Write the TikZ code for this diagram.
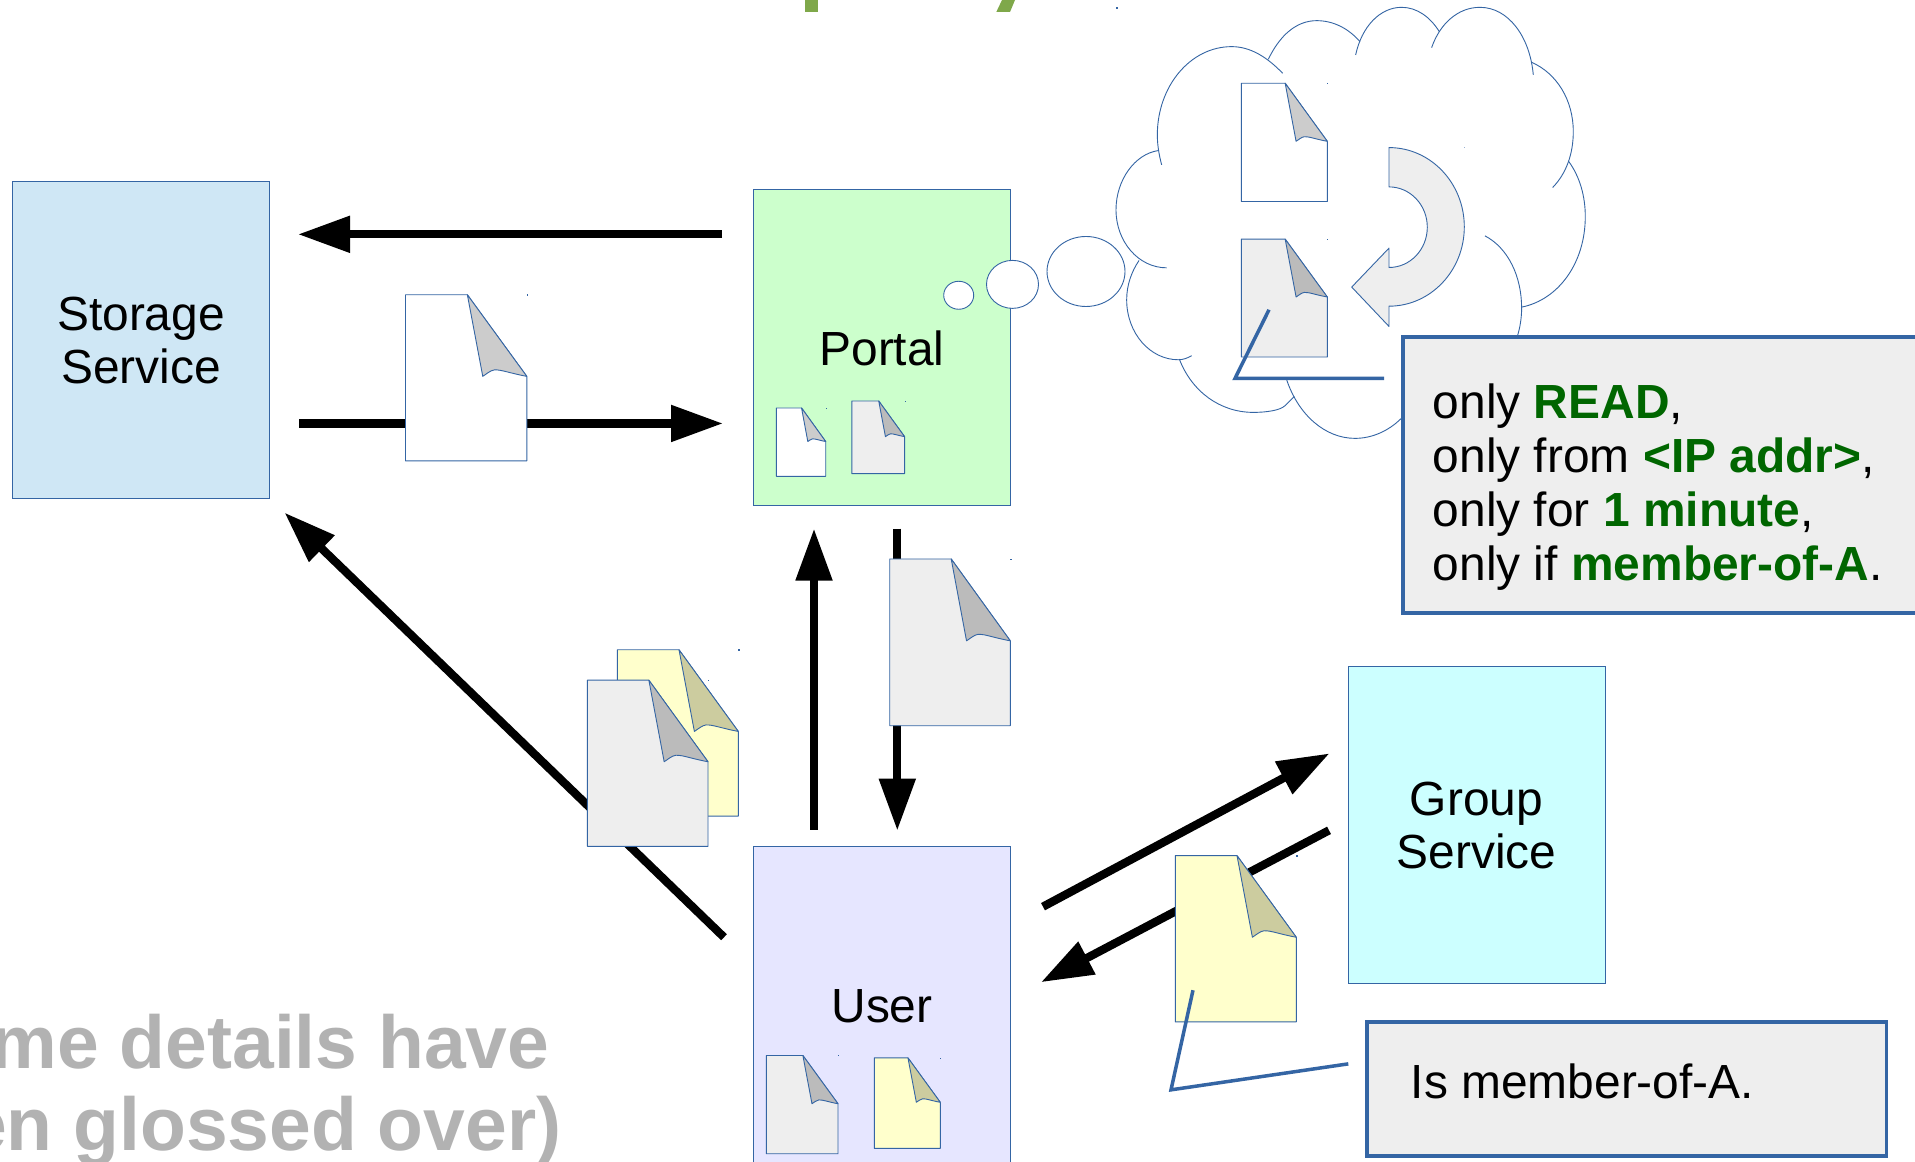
\documentclass[tikz,border=0pt]{standalone}
\usepackage{fontspec}
\setmainfont{Liberation Sans}
\usetikzlibrary{arrows.meta,shapes.geometric}
\definecolor{lineblue}{HTML}{3465A4}
\definecolor{storagefill}{HTML}{CFE7F5}
\definecolor{portalfill}{HTML}{CCFFCC}
\definecolor{userfill}{HTML}{E6E6FF}
\definecolor{groupfill}{HTML}{CCFFFF}
\definecolor{paleg}{HTML}{EEEEEE}
\definecolor{foldw}{HTML}{CCCCCC}
\definecolor{foldg}{HTML}{BBBBBB}
\definecolor{yellowp}{HTML}{FFFFCC}
\definecolor{foldy}{HTML}{CCCC9F}
\definecolor{dkgreen}{HTML}{006600}
\definecolor{glossgrey}{HTML}{B2B2B2}
\definecolor{titlegreen}{HTML}{7FA84A}
\tikzset{
  svcbox/.style={draw=lineblue,line width=0.9pt,rectangle,inner sep=0pt,outer sep=0pt,anchor=north west},
  calloutbox/.style={draw=lineblue,fill=paleg,line width=3.8pt,rectangle,inner sep=0pt,outer sep=0pt,anchor=north west},
  boxlabel/.style={font=\fontsize{47.9}{54}\selectfont,anchor=base,inner sep=0pt},
  bubble/.style={ellipse,draw=lineblue,fill=white,line width=0.9pt,inner sep=0pt,outer sep=0pt},
  bigarrow/.style={line width=8.3pt,-{Triangle[length=52pt,width=35pt]}},
  leader/.style={draw=lineblue,line width=3.5pt,line join=miter},
  cloudline/.style={draw=lineblue,line width=0.9pt},
  sheet/.style={draw=lineblue,line width=0.9pt,line join=round}
}
\newcommand{\docsheet}[6]{%
  \begin{scope}[shift={(#1,#2)},xscale=#3-#1,yscale=#4-#2]
    \path[sheet,fill=#5] (0,0)--(.51,0)--(1,.491)--(1,1)--(0,1)--cycle;
    \path[sheet,fill=#6] (.51,0)--(1,.491) .. controls (.86,.472) and (.79,.45) .. (.733,.452) .. controls (.70,.455) and (.665,.478) .. (.637,.491) --cycle;
    \fill[lineblue] (1,-0.002) rectangle ++(0.012,0.009);
  \end{scope}}
\begin{document}
\begin{tikzpicture}[x=1pt,y=-0.9992pt]
\useasboundingbox (0,0) rectangle (1915,1161.93);
\clip (0,0) rectangle (1915,1161.93);
\fill[white] (0,0) rectangle (1915,1161.93);
% title fragments
\fill[titlegreen] (805,0) rectangle (818,12);
\fill[titlegreen] (1002,0)--(1015,0)--(1010,12)--(996.3,12)--cycle;
\fill[lineblue] (1116,7) rectangle (1118,9);
% service boxes
\node[svcbox,fill=storagefill,minimum width=256.5pt,minimum height=316.5pt] (storage) at (12.5,182) {};
\node[svcbox,fill=portalfill,minimum width=257pt,minimum height=316.5pt] (portal) at (753.5,189.5) {};
\node[svcbox,fill=userfill,minimum width=257pt,minimum height=400pt] (user) at (753.5,847) {};
\node[svcbox,fill=groupfill,minimum width=257pt,minimum height=316.5pt] (group) at (1348,667) {};
\node[boxlabel] (storagea) at (141,330.5) {Storage};
\node[boxlabel] (storageb) at (141,384.2) {Service};
\node[boxlabel] (portallabel) at (882,365.5) {Portal};
\node[boxlabel] (userlabel) at (882,1023.3) {User};
\node[boxlabel] (groupa) at (1476.5,816.5) {Group};
\node[boxlabel] (groupb) at (1476.5,869.5) {Service};
% thought bubbles
\node[bubble,minimum width=30pt,minimum height=28pt] (bubbleS) at (958.7,295.5) {};
\node[bubble,minimum width=52pt,minimum height=48pt] (bubbleM) at (1012.5,284.6) {};
\node[bubble,minimum width=78pt,minimum height=70pt] (bubbleL) at (1086,271.7) {};
% cloud
\begin{scope}[shift={(1100,0)},x=0.3333pt,y=-0.3331pt]
\draw[cloudline] (548,220) .. controls (500,170) and (450,140) .. (395,140) .. controls (270,140) and (172,260) .. (172,405) .. controls (172,435) and (177,465) .. (185,495);
\draw[cloudline] (505,178) .. controls (540,105) and (590,62) .. (650,62) .. controls (700,62) and (745,85) .. (780,125);
\draw[cloudline] (767,165) .. controls (785,80) and (840,22) .. (905,22) .. controls (950,22) and (990,50) .. (1018,95);
\draw[cloudline] (995,143) .. controls (1020,70) and (1075,22) .. (1140,22) .. controls (1225,22) and (1290,110) .. (1300,225);
\draw[cloudline] (1295,187) .. controls (1370,220) and (1420,300) .. (1420,395) .. controls (1420,460) and (1400,520) .. (1358,563);
\draw[cloudline] (1405,483) .. controls (1440,530) and (1456,590) .. (1456,650) .. controls (1456,790) and (1375,900) .. (1265,922);
\draw[cloudline] (1155,708) .. controls (1225,745) and (1265,830) .. (1265,925) .. controls (1265,955) and (1260,985) .. (1252,1010);
\draw[cloudline] (905,1255) .. controls (865,1295) and (815,1316) .. (765,1316) .. controls (675,1316) and (595,1245) .. (560,1140);
\draw[cloudline] (583,1190) -- (555,1218) .. controls (540,1232) and (500,1238) .. (460,1238) .. controls (360,1238) and (275,1175) .. (238,1078);
\draw[cloudline] (275,1068) .. controls (262,1075) and (250,1080) .. (235,1080) .. controls (150,1080) and (80,1000) .. (80,900) .. controls (80,855) and (95,815) .. (117,782);
\draw[cloudline] (200,804) .. controls (115,804) and (48,725) .. (48,630) .. controls (48,540) and (105,462) .. (175,452);
\end{scope}
% curved arrow
\draw[lineblue,line width=0.9pt,fill=paleg,line join=round] (1389,147.7) arc[start angle=90,end angle=-90,x radius=75.3pt,y radius=79.3pt] -- (1389,326.7) -- (1351.7,287.3) -- (1389,248.3) -- (1389,267.7) arc[start angle=-90,end angle=90,x radius=38.3pt,y radius=40.3pt] -- cycle;
\fill[lineblue!50] (1463.5,147) rectangle (1465,148.5);
% arrow ends
\coordinate (a1s) at (722,234.5); \coordinate (a1e) at (298,234.5);
\coordinate (a2s) at (299,423.8); \coordinate (a2e) at (723,423.8);
\coordinate (a3s) at (814,830.3); \coordinate (a3e) at (814,529);
\coordinate (a4s) at (897.3,529); \coordinate (a4e) at (897.3,831.3);
\coordinate (a5s) at (724,938); \coordinate (a5e) at (284.5,513);
\coordinate (a6s) at (1043,907.4); \coordinate (a6e) at (1329.5,754);
\coordinate (a7s) at (1329,831); \coordinate (a7e) at (1041,983);
\draw[bigarrow] (a1s) -- (a1e);
\draw[bigarrow] (a2s) -- (a2e);
\draw[bigarrow] (a3s) -- (a3e);
\draw[bigarrow] (a4s) -- (a4e);
\draw[bigarrow] (a5s) -- (a5e);
\draw[bigarrow] (a6s) -- (a6e);
\draw[bigarrow] (a7s) -- (a7e);
% documents
\docsheet{405.5}{295}{526.8}{461.3}{white}{foldw}
\docsheet{776.4}{408.3}{825.7}{476.7}{white}{foldw}
\docsheet{851.8}{401.3}{904.6}{474}{paleg}{foldg}
\docsheet{1241.3}{83.3}{1327.3}{201.7}{white}{foldw}
\docsheet{1241.3}{239.3}{1327.3}{357.3}{paleg}{foldg}
\docsheet{889.7}{559.4}{1010.3}{726.3}{paleg}{foldg}
\docsheet{617.3}{650.3}{738.3}{816.7}{yellowp}{foldy}
\docsheet{587.3}{680.7}{708}{847}{paleg}{foldg}
\docsheet{766.3}{1056.3}{838}{1154.7}{paleg}{foldg}
\docsheet{874.3}{1058.7}{940.3}{1149.3}{yellowp}{foldy}
\docsheet{1175.3}{856.3}{1296.3}{1022.7}{yellowp}{foldy}
% callouts
\node[calloutbox,minimum width=560pt,minimum height=276pt] (readbox) at (1403,337.3) {};
\node[calloutbox,minimum width=519.5pt,minimum height=134pt] (memberbox) at (1367,1022.5) {};
\coordinate (l1a) at (1269,310); \coordinate (l1b) at (1235,378.7); \coordinate (l1c) at (1384,378.7);
\coordinate (l2a) at (1193,991); \coordinate (l2b) at (1171,1090.7); \coordinate (l2c) at (1348.3,1064.7);
\draw[leader] (l1a) -- (l1b) -- (l1c);
\draw[leader] (l2a) -- (l2b) -- (l2c);
\node[boxlabel,anchor=base west] (read1) at (1432.6,418.5) {only {\bfseries\color{dkgreen}READ},};
\node[boxlabel,anchor=base west] (read2) at (1432.6,472.5) {only from {\bfseries\color{dkgreen}<IP addr>},};
\node[boxlabel,anchor=base west] (read3) at (1432.6,526.5) {only for {\bfseries\color{dkgreen}1 minute},};
\node[boxlabel,anchor=base west] (read4) at (1432.6,580.5) {only if {\bfseries\color{dkgreen}member-of-A}.};
\node[boxlabel,anchor=base west] (memberlabel) at (1410.6,1099.5) {Is member-of-A.};
% glossed-over note
\node[anchor=base east,inner sep=0pt,text=glossgrey,font=\fontsize{75}{82}\bfseries\selectfont] (gloss1) at (549.5,1069.5) {me details have};
\node[anchor=base east,inner sep=0pt,text=glossgrey,font=\fontsize{75}{82}\bfseries\selectfont] (gloss2) at (561.5,1151.5) {en glossed over)};
\end{tikzpicture}
\end{document}
